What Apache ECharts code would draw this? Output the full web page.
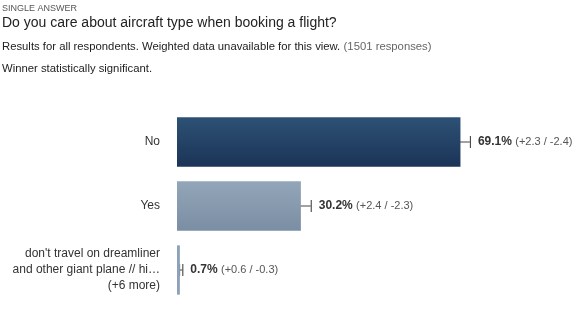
<!DOCTYPE html>
<html>
<head>
<meta charset="utf-8">
<script src="https://cdn.jsdelivr.net/npm/echarts@6/dist/echarts.min.js"></script>
<style>
  html, body { margin: 0; padding: 0; background: #fff; }
  #chart { width: 579px; height: 333px; }
</style>
</head>
<body>
<div id="chart"></div>
<script>
// Survey answers and their shares (percent) with +/- margins
const categories = [
  'No',
  'Yes',
  "don't travel on dreamliner\nand other giant plane // hi…\n(+6 more)"
];
const shares = [69.1, 30.2, 0.7];
const marginPlus = [2.3, 2.4, 0.6];
const marginMinus = [2.4, 2.3, 0.3];

const FONT = 'Liberation Sans, Arial, sans-serif';

const barColors = [
  new echarts.graphic.LinearGradient(0, 0, 0, 1, [
    { offset: 0, color: '#2d5175' }, { offset: 1, color: '#1b3457' }
  ]),
  new echarts.graphic.LinearGradient(0, 0, 0, 1, [
    { offset: 0, color: '#93a5b8' }, { offset: 1, color: '#7a8ea4' }
  ]),
  '#8da2ba'
];

const errData = shares.map((v, i) => [i, v - marginMinus[i], v + marginPlus[i], v, marginPlus[i], marginMinus[i]]);

const chart = echarts.init(document.getElementById('chart'), null, { renderer: 'canvas' });

chart.setOption({
  animation: false,
  backgroundColor: '#ffffff',
  graphic: [
    { type: 'text', left: 2, top: 4, style: { text: 'SINGLE ANSWER', font: '9px ' + FONT, fill: '#555' } },
    { type: 'text', left: 2, top: 16, style: { text: 'Do you care about aircraft type when booking a flight?', font: '14px ' + FONT, fill: '#222' } },
    { type: 'text', left: 2, top: 41, style: {
        text: '{a|Results for all respondents. Weighted data unavailable for this view.} {b|(1501 responses)}',
        rich: {
          a: { font: '11.3px ' + FONT, fill: '#222' },
          b: { font: '11.3px ' + FONT, fill: '#666' }
        }
    } },
    { type: 'text', left: 2, top: 63, style: { text: 'Winner statistically significant.', font: '11.3px ' + FONT, fill: '#222' } }
  ],
  grid: { left: 177, top: 110, right: 0, height: 192, containLabel: false },
  xAxis: {
    type: 'value', min: 0, max: 98, show: false
  },
  yAxis: {
    type: 'category',
    data: categories,
    inverse: true,
    axisLine: { show: false },
    axisTick: { show: false },
    splitLine: { show: false },
    axisLabel: {
      margin: 17,
      color: '#333',
      fontFamily: FONT,
      fontSize: 12,
      lineHeight: 16,
      align: 'right'
    }
  },
  series: [
    {
      type: 'bar',
      data: shares.map((v, i) => ({ value: v, itemStyle: { color: barColors[i] } })),
      barCategoryGap: '23%',
      silent: true
    },
    {
      type: 'custom',
      silent: true,
      data: errData,
      encode: { x: [1, 2], y: 0 },
      renderItem: function (params, api) {
        const cat = api.value(0);
        const lo = api.coord([api.value(1), cat]);
        const hi = api.coord([api.value(2), cat]);
        const y = lo[1];
        const h = 6;
        const v = api.value(3);
        return {
          type: 'group',
          children: [
            { type: 'line', shape: { x1: lo[0], y1: y, x2: hi[0], y2: y }, style: { stroke: '#444', lineWidth: 1 } },
            { type: 'rect', shape: { x: lo[0] - 1, y: y - h, width: 2, height: 2 * h }, style: { fill: '#b8c2cc', stroke: '#5d6b7a', lineWidth: 1 } },
            { type: 'line', shape: { x1: hi[0] + 0.5, y1: y - h, x2: hi[0] + 0.5, y2: y + h }, style: { stroke: '#333', lineWidth: 1 } },
            {
              type: 'text',
              x: hi[0] + 8,
              y: y,
              style: {
                text: '{v|' + v.toFixed(1) + '%} {m|(+' + api.value(4).toFixed(1) + ' / -' + api.value(5).toFixed(1) + ')}',
                verticalAlign: 'middle',
                rich: {
                  v: { fontFamily: FONT, fontSize: 12, fontWeight: 'bold', fill: '#333' },
                  m: { fontFamily: FONT, fontSize: 11, fill: '#555' }
                }
              }
            }
          ]
        };
      }
    }
  ]
});
</script>
</body>
</html>
